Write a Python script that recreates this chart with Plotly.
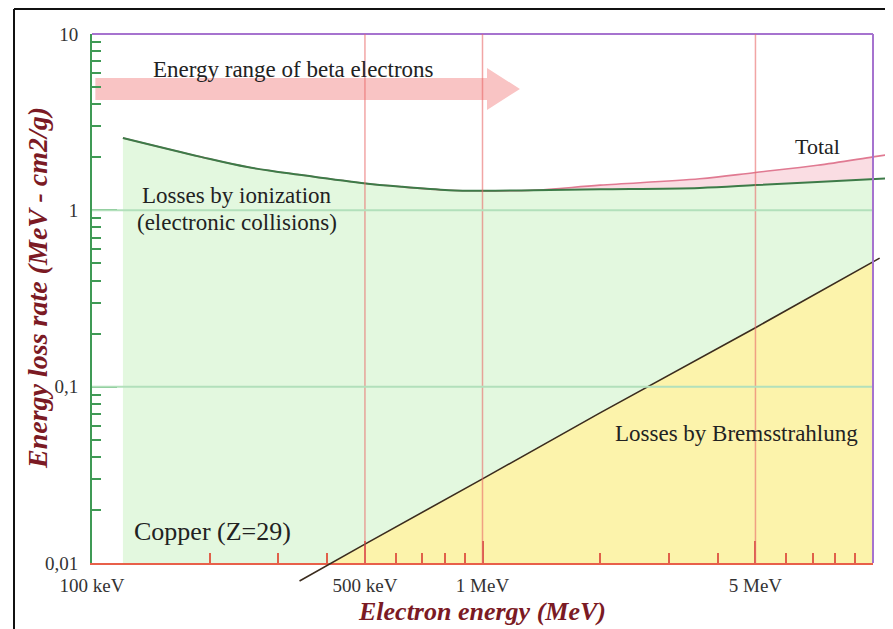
import numpy as np
import plotly.graph_objects as go

# ---------------- data ----------------
ion_energy = [0.12, 0.19, 0.25, 0.34, 0.49, 0.62, 0.82, 1.0, 1.35, 2.0, 3.6, 5.0, 7.2, 10.9]
ion_rate = [2.57, 2.01, 1.76, 1.59, 1.43, 1.36, 1.30, 1.29, 1.30, 1.315, 1.34, 1.39, 1.45, 1.52]

total_energy = [0.12, 0.19, 0.25, 0.34, 0.49, 0.62, 0.82, 1.0, 1.35, 2.0, 3.6, 5.0, 7.2, 10.0, 10.8]
total_rate = [2.57, 2.01, 1.76, 1.59, 1.43, 1.36, 1.30, 1.29, 1.30, 1.39, 1.51, 1.64, 1.80, 2.01, 2.06]

brems_energy = [0.34, 0.5, 1.0, 2.0, 5.0, 10.0, 10.4]
brems_rate = [0.0079, 0.0128, 0.030, 0.071, 0.216, 0.51, 0.536]

# arrow "Energy range of beta electrons" (MeV, MeV cm2/g)
arrow_x = [0.102, 1.027, 1.027, 1.247, 1.027, 1.027, 0.102, 0.102]
arrow_y = [5.63, 5.63, 6.41, 4.88, 3.71, 4.22, 4.22, 5.63]

x_tickvals = [0.1, 0.5, 1, 5]
x_ticktext = ["100 keV", "500 keV", "1 MeV", "5 MeV"]
x_minor = [0.2, 0.3, 0.4, 0.6, 0.7, 0.8, 0.9, 2, 3, 4, 6, 7, 8, 9]
y_tickvals = [0.01, 0.1, 1, 10]
y_ticktext = ["0,01", "0,1", "1", "10"]
y_minor = [m * 10.0 ** d for d in (-2, -1, 0) for m in range(2, 10)]
v_grid = [0.5, 1, 5]
h_grid = [0.1, 1]
floor = 0.01

# ---------------- layout geometry (pixels in the 893x629 window) ----------------
W, H = 893, 629
OFF = 8                                            # browser body margin
OUT_L, OUT_R, OUT_T, OUT_B = 92, 887, 34, 583      # outer (unclipped curves) area
AX_R, AX_B = 873, 563                              # main axes right / bottom
xr_main = [-1, 1]
yr_main = [-2, 1]
px_dec_x = (AX_R - OUT_L) / (xr_main[1] - xr_main[0])
px_dec_y = (AX_B - OUT_T) / (yr_main[1] - yr_main[0])
xr_out = [xr_main[0], xr_main[0] + (OUT_R - OUT_L) / px_dec_x]
yr_out = [yr_main[1] - (OUT_B - OUT_T) / px_dec_y, yr_main[1]]
pw, ph = OUT_R - OUT_L, OUT_B - OUT_T

SERIF = "Liberation Serif"
GREEN_FILL = "#e3f8df"
YELLOW_FILL = "#fcf3ab"
PINK_FILL = "#fadde3"
ARROW = "#f9c4c4"

fig = go.Figure()

# fills on the main (clipped) subplot
fig.add_trace(go.Scatter(x=ion_energy, y=[floor] * len(ion_energy), mode="lines",
                         line=dict(width=0), hoverinfo="skip", showlegend=False))
fig.add_trace(go.Scatter(x=ion_energy, y=ion_rate, mode="lines", fill="tonexty",
                         fillcolor=GREEN_FILL, line=dict(width=0, shape="spline"),
                         hoverinfo="skip", showlegend=False))
fig.add_trace(go.Scatter(x=total_energy, y=total_rate, mode="lines", fill="tonexty",
                         fillcolor=PINK_FILL, line=dict(width=0, shape="spline"),
                         hoverinfo="skip", showlegend=False))
fig.add_trace(go.Scatter(x=brems_energy, y=[floor] * len(brems_energy), mode="lines",
                         line=dict(width=0), hoverinfo="skip", showlegend=False))
fig.add_trace(go.Scatter(x=brems_energy, y=brems_rate, mode="lines", fill="tonexty",
                         fillcolor=YELLOW_FILL, line=dict(width=0),
                         hoverinfo="skip", showlegend=False))
fig.add_trace(go.Scatter(x=arrow_x, y=arrow_y, mode="lines", fill="toself",
                         fillcolor=ARROW, line=dict(width=0),
                         hoverinfo="skip", showlegend=False))

# curves on the outer subplot (may run past the axes)
fig.add_trace(go.Scatter(x=total_energy, y=total_rate, mode="lines", xaxis="x2", yaxis="y2",
                         line=dict(color="#e07a92", width=1.6, shape="spline"),
                         name="Total", showlegend=False))
fig.add_trace(go.Scatter(x=ion_energy, y=ion_rate, mode="lines", xaxis="x2", yaxis="y2",
                         line=dict(color="#3d7b48", width=2, shape="spline"),
                         name="Ionization", showlegend=False))
fig.add_trace(go.Scatter(x=brems_energy, y=brems_rate, mode="lines", xaxis="x2", yaxis="y2",
                         line=dict(color="#3b2c1e", width=1.6),
                         name="Bremsstrahlung", showlegend=False))

shapes = []
for v in v_grid:
    shapes.append(dict(type="line", xref="x", yref="y domain", x0=v, x1=v, y0=0, y1=1,
                       line=dict(color="rgba(232,105,105,0.6)", width=1.5), layer="above"))
for v in h_grid:
    shapes.append(dict(type="line", xref="x domain", yref="y", x0=0, x1=1, y0=v, y1=v,
                       line=dict(color="#b2e0bb", width=2), layer="above"))
# top and right purple borders
shapes.append(dict(type="line", xref="x domain", yref="y domain", x0=0, x1=1, y0=1, y1=1,
                   line=dict(color="#a673cf", width=2), layer="below"))
shapes.append(dict(type="line", xref="x domain", yref="y domain", x0=1, x1=1, y0=0, y1=1,
                   line=dict(color="#a673cf", width=2), layer="above"))
# black frame around the picture
FRAME = dict(color="#111111", width=2)
fx0, fx1 = (14 - OUT_L) / pw, (886 - OUT_L) / pw
fy0, fy1 = (OUT_B - 640) / ph, (OUT_B - 9) / ph
shapes.append(dict(type="line", xref="paper", yref="paper", x0=fx0, x1=fx1, y0=fy1, y1=fy1,
                   line=FRAME, layer="above"))
shapes.append(dict(type="line", xref="paper", yref="paper", x0=fx0, x1=fx0, y0=fy0, y1=fy1,
                   line=FRAME, layer="above"))
shapes.append(dict(type="line", xref="paper", yref="paper", x0=fx1, x1=fx1, y0=fy0, y1=fy1,
                   line=FRAME, layer="above"))

TXT = "#222222"
ann = []
def lab(text, e, v, size):
    ann.append(dict(text=text, x=np.log10(e), y=np.log10(v), xref="x", yref="y",
                    xanchor="center", yanchor="middle", showarrow=False,
                    font=dict(family=SERIF, size=size, color=TXT)))

lab("Energy range of beta electrons", 0.329, 6.3, 23)
lab("Total", 7.23, 2.29, 22)
lab("Losses by ionization", 0.235, 1.22, 23)
lab("(electronic collisions)", 0.235, 0.85, 23)
lab("Losses by Bremsstrahlung", 4.48, 0.0546, 23)
lab("Copper (Z=29)", 0.203, 0.0150, 26)

TITLE = "#7b1a24"
ann.append(dict(text="<b><i>Electron energy (MeV)</i></b>", xref="paper", yref="paper",
                x=(482 - OUT_L) / pw, y=(OUT_B - 611) / ph, showarrow=False,
                xanchor="center", yanchor="middle",
                font=dict(family=SERIF, size=26, color=TITLE)))
ann.append(dict(text="<b><i>Energy loss rate (MeV - cm2/g)</i></b>", xref="paper", yref="paper",
                x=(37 - OUT_L) / pw, y=(OUT_B - 288) / ph, showarrow=False, textangle=-90,
                xanchor="center", yanchor="middle",
                font=dict(family=SERIF, size=28, color=TITLE)))

fig.update_layout(
    width=W - OFF, height=H - OFF,
    margin=dict(l=OUT_L - OFF, r=W - OUT_R, t=OUT_T - OFF, b=H - OUT_B, pad=0),
    paper_bgcolor="white", plot_bgcolor="rgba(0,0,0,0)",
    showlegend=False,
    shapes=shapes, annotations=ann,
    xaxis=dict(type="log", range=xr_main, domain=[0, (AX_R - OUT_L) / pw], anchor="y",
               showline=True, linecolor="#e8604a", linewidth=2,
               ticks="inside", ticklen=22, tickwidth=2, tickcolor="#d9604c",
               tickvals=x_tickvals, ticktext=x_ticktext, ticklabelstandoff=4,
               tickfont=dict(family=SERIF, size=19, color="#333333"),
               minor=dict(tickvals=x_minor, ticks="inside", ticklen=10, tickwidth=1.5,
                          tickcolor="#e0604a", showgrid=False),
               showgrid=False, zeroline=False),
    yaxis=dict(type="log", range=yr_main, domain=[(OUT_B - AX_B) / ph, 1], anchor="x",
               showline=True, linecolor="#3f9a55", linewidth=2,
               ticks="inside", ticklen=25, tickwidth=2, tickcolor="#3f9a55",
               tickvals=y_tickvals, ticktext=y_ticktext, ticklabelstandoff=8,
               tickfont=dict(family=SERIF, size=19, color="#333333"),
               minor=dict(tickvals=y_minor, ticks="inside", ticklen=9, tickwidth=1.5,
                          tickcolor="#3f9a55", showgrid=False),
               showgrid=False, zeroline=False),
    xaxis2=dict(type="log", range=xr_out, domain=[0, 1], anchor="y2", visible=False),
    yaxis2=dict(type="log", range=yr_out, domain=[0, 1], anchor="x2", visible=False),
)

fig.write_html("out.html")
